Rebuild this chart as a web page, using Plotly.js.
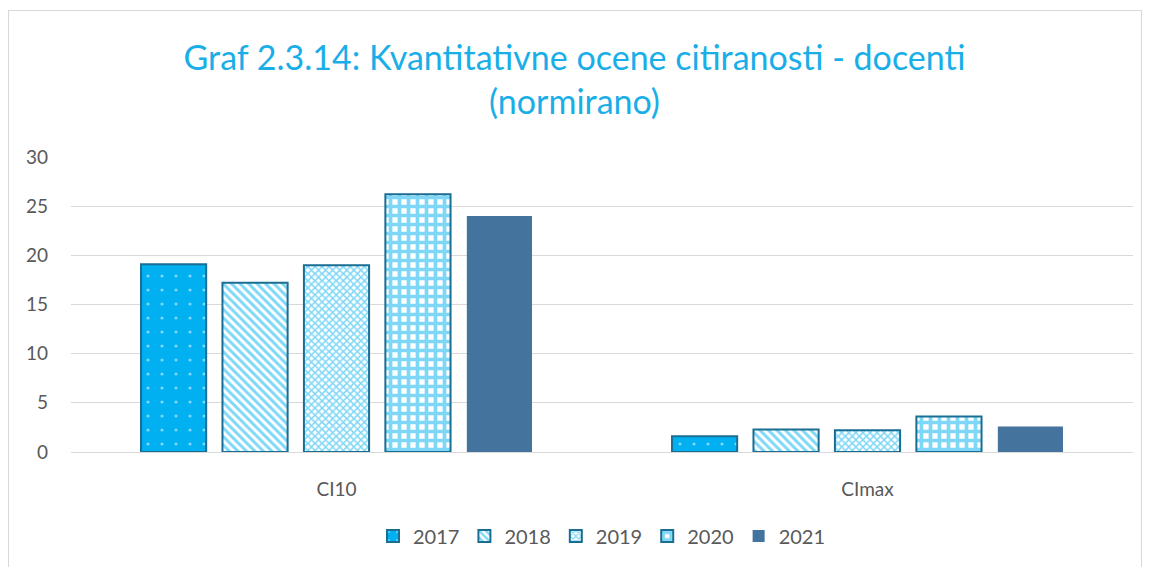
<!DOCTYPE html>
<html>
<head>
<meta charset="utf-8">
<script src="https://cdn.plot.ly/plotly-3.0.1.min.js"></script>
<style>
  html, body { margin: 0; padding: 0; background: #fff; }
  #wrap { position: relative; width: 1149px; height: 567px; overflow: hidden; }
  #chart { position: absolute; left: 0; top: 0; width: 1149px; height: 567px; }
  #frame { position: absolute; left: 8px; top: 10px; width: 1132px; height: 600px; border: 1px solid #d9d9d9; pointer-events: none; }
</style>
</head>
<body>
<div id="wrap">
  <div id="chart"></div>
  <div id="frame"></div>
</div>
<script>
const categories = ["CI10", "CImax"];
const years = ["2017", "2018", "2019", "2020", "2021"];
const v2017 = [19.1, 1.6];
const v2018 = [17.2, 2.3];
const v2019 = [19.0, 2.2];
const v2020 = [26.2, 3.6];
const v2021 = [24.0, 2.6];
const yTicks = [0, 5, 10, 15, 20, 25, 30];

const seriesValues = [v2017, v2018, v2019, v2020, v2021];
const blue = "#00B0F0";
const edge = "#1A6E93";
const patterns = [
  { shape: ".", bgcolor: blue, fgcolor: "#ffffff", size: 14, solidity: 0.04, fillmode: "overlay" },
  { shape: "\\", bgcolor: "#ffffff", fgcolor: blue, size: 6, solidity: 0.5, fillmode: "overlay" },
  { shape: "x", bgcolor: "#ffffff", fgcolor: blue, size: 5, solidity: 0.5, fillmode: "overlay" },
  { shape: "+", bgcolor: "#ffffff", fgcolor: blue, size: 9, solidity: 0.65, fillmode: "overlay" },
  null
];

const traces = years.map((yr, i) => {
  const marker = patterns[i]
    ? { color: patterns[i].bgcolor, pattern: patterns[i], line: { color: edge, width: 2 } }
    : { color: "#44739D", line: { color: "#44739D", width: 0 } };
  return {
    type: "bar",
    name: yr,
    x: categories,
    y: seriesValues[i],
    marker: marker,
    hoverinfo: "none"
  };
});

const layout = {
  width: 1149,
  height: 567,
  margin: { l: 71, r: 16, t: 157, b: 115 },
  paper_bgcolor: "#ffffff",
  plot_bgcolor: "#ffffff",
  font: { family: "Lato, 'Open Sans', sans-serif", color: "#595959", size: 16 },
  title: {
    text: "Graf 2.3.14: Kvantitativne ocene citiranosti - docenti<br>(normirano)",
    font: { family: "Lato, 'Open Sans', sans-serif", size: 34, color: "#1AAEE8" },
    x: 0.5, xanchor: "center",
    y: 0.877, yanchor: "top",
    yref: "container"
  },
  barmode: "group",
  bargap: 0.233,
  bargroupgap: 0.2,
  showlegend: true,
  legend: {
    orientation: "h",
    x: 0.5, xanchor: "center",
    y: -0.285, yanchor: "middle",
    font: { size: 20, color: "#595959" },
    traceorder: "normal",
    itemwidth: 30
  },
  xaxis: {
    type: "category",
    showgrid: false,
    showline: true,
    linecolor: "#d9d9d9",
    linewidth: 1,
    ticks: "",
    ticklabelstandoff: 20,
    tickfont: { size: 19, color: "#595959" }
  },
  yaxis: {
    range: [0, 30],
    tickvals: yTicks,
    ticktext: yTicks.map(String),
    showgrid: true,
    gridcolor: "#d9d9d9",
    gridwidth: 1,
    zeroline: false,
    showline: false,
    ticks: "",
    ticklabelstandoff: 22,
    tickfont: { size: 19, color: "#595959" }
  }
};

Plotly.newPlot("chart", traces, layout, { staticPlot: true, displayModeBar: false });
</script>
</body>
</html>
